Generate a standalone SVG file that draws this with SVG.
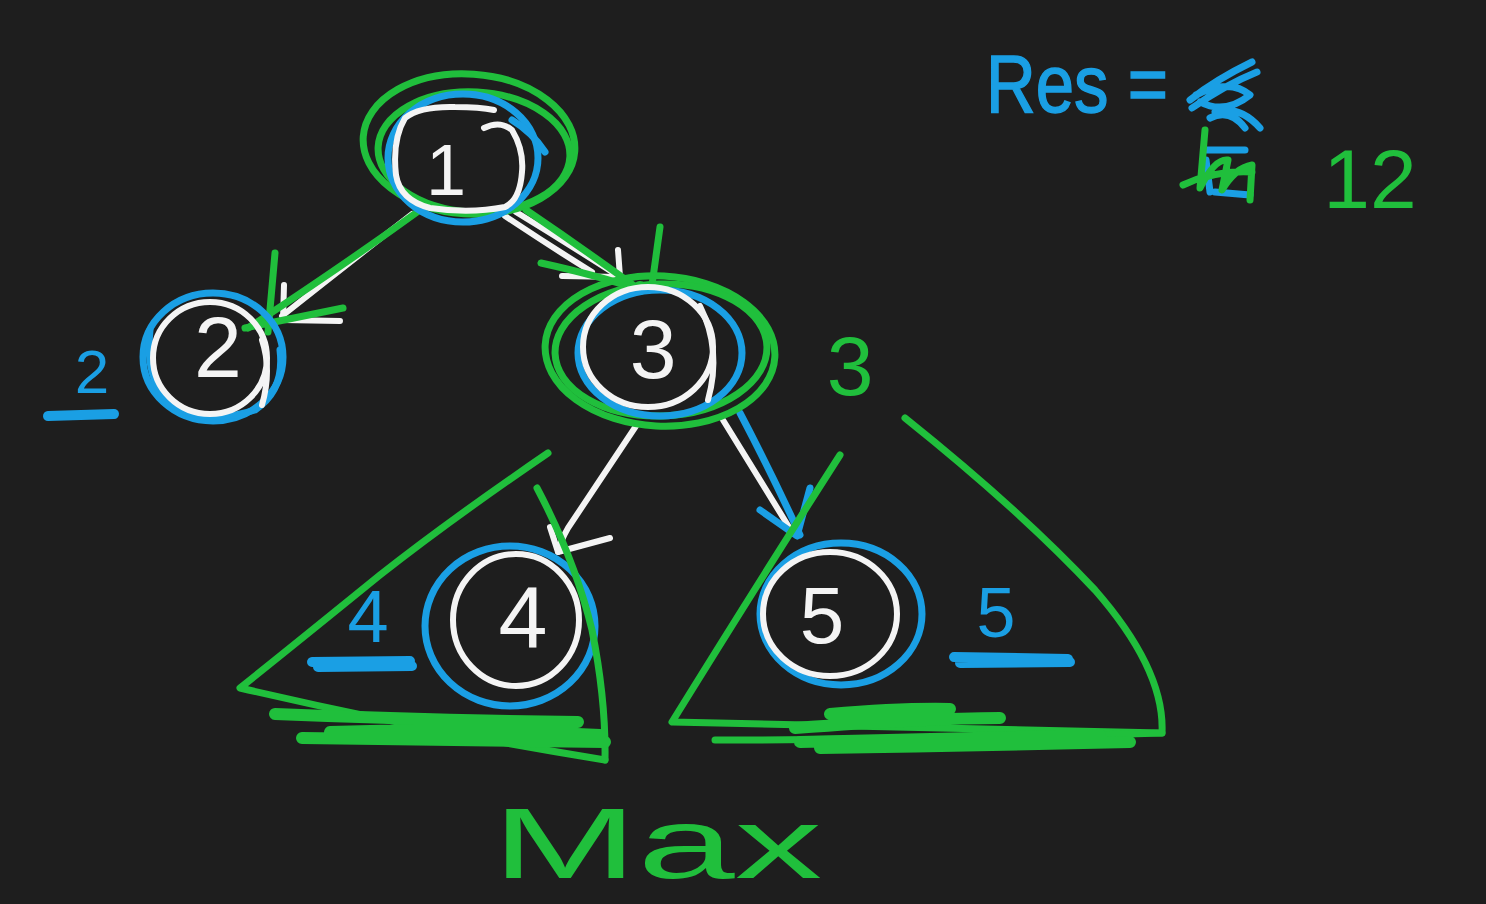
<svg xmlns="http://www.w3.org/2000/svg" width="1486" height="904" viewBox="0 0 1486 904">
<style>
.w{fill:none;stroke:#f4f4f4;stroke-width:6;stroke-linecap:round;stroke-linejoin:round}
.b{fill:none;stroke:#1a9fe4;stroke-width:7;stroke-linecap:round;stroke-linejoin:round}
.g{fill:none;stroke:#20bf3c;stroke-width:7;stroke-linecap:round;stroke-linejoin:round}
.gs{fill:none;stroke:#20bf3c;stroke-width:12;stroke-linecap:round;stroke-linejoin:round}
.bs{fill:none;stroke:#1a9fe4;stroke-width:10;stroke-linecap:round;stroke-linejoin:round}
.t{font-family:"Liberation Sans",Arial,sans-serif;text-anchor:middle}
.tw{fill:#f4f4f4}
.tb{fill:#1a9fe4}
.tg{fill:#20bf3c}
</style>
<rect width="1486" height="904" fill="#1e1e1e"/>

<g id="connectors">
  <!-- 1 -> 2 -->
  <path class="w" d="M412 214 Q350 262 282 316"/>
  <path class="w" d="M284 285 L283 320 L340 321"/>
  <path class="g" d="M420 210 Q340 268 248 328"/>
  <path class="g" d="M275 253 L268 332 M343 308 L245 328"/>
  <!-- 1 -> 3 -->
  <path class="w" d="M505 216 Q550 246 592 272"/>
  <path class="w" d="M516 212 Q570 245 620 277"/>
  <path class="w" d="M618 250 L620 277 L562 276"/>
  <path class="g" d="M526 210 Q585 250 640 290"/>
  <path class="g" d="M541 263 Q600 276 640 290 M660 227 L652 285"/>
  <circle cx="640" cy="288" r="7" fill="#20bf3c"/>
  <!-- 3 -> 4 -->
  <path class="w" d="M636 426 Q600 480 568 528 Q560 542 558 552"/>
  <path class="w" d="M550 527 L558 552 L610 538"/>
  <!-- 3 -> 5 -->
  <path class="w" d="M723 420 L792 532"/>
  <path class="b" d="M740 413 Q770 470 800 535"/>
  <path class="b" d="M760 510 L797 536 L810 488"/>
</g>

<g id="node1">
  <ellipse class="g" cx="469" cy="144" rx="106" ry="70" transform="rotate(4 469 144)"/>
  <ellipse class="g" cx="474" cy="152" rx="96" ry="60" transform="rotate(3 474 152)"/>
  <ellipse class="b" cx="463" cy="158" rx="75" ry="64"/>
  <path class="b" d="M512 120 Q532 132 545 152"/>
  <path class="w" d="M484 128 Q500 120 512 130 Q524 150 522 172 Q520 200 505 207 Q470 214 430 208 Q400 200 396 175 Q392 140 405 118 Q420 106 455 107 Q480 107 494 110"/>
  <text class="t tw" x="446" y="195" font-size="72">1</text>
</g>

<g id="node2">
  <ellipse class="b" cx="213" cy="357" rx="70" ry="64"/>
  <path class="b" d="M150 330 Q145 380 170 405 Q210 425 255 410 Q285 390 280 350"/>
  <ellipse class="w" cx="210" cy="358" rx="57" ry="56"/>
  <path class="w" d="M262 340 Q272 370 262 405"/>
  <text class="t tw" x="218" y="377" font-size="86">2</text>
  <text class="t tb" x="92" y="393" font-size="62">2</text>
  <path class="bs" d="M48 416 L114 414"/>
</g>

<g id="node3">
  <ellipse class="g" cx="660" cy="351" rx="115" ry="75" transform="rotate(3 660 351)"/>
  <ellipse class="g" cx="661" cy="350" rx="106" ry="66" transform="rotate(-2 661 350)"/>
  <ellipse class="b" cx="660" cy="353" rx="82" ry="63"/>
  <ellipse class="w" cx="648" cy="347" rx="65" ry="60"/>
  <path class="w" d="M700 306 Q722 350 708 400"/>
  <text class="t tw" x="653" y="378" font-size="84">3</text>
  <text class="t tg" x="850" y="395" font-size="84">3</text>
</g>

<g id="node4">
  <ellipse class="b" cx="510" cy="626" rx="85" ry="80"/>
  <ellipse class="w" cx="516" cy="620" rx="63" ry="66"/>
  <text class="t tw" x="523" y="648" font-size="88">4</text>
  <text class="t tb" x="368" y="642" font-size="74">4</text>
  <path class="bs" d="M312 662 L410 661 M318 667 L412 666"/>
</g>

<g id="node5">
  <ellipse class="b" cx="841" cy="614" rx="81" ry="71"/>
  <ellipse class="w" cx="830" cy="614" rx="67" ry="62"/>
  <text class="t tw" x="822" y="643" font-size="80">5</text>
  <text class="t tb" x="996" y="637" font-size="70">5</text>
  <path class="bs" d="M954 657 L1068 659 M960 663 L1070 662"/>
</g>

<g id="subtrees">
  <!-- left subtree triangle -->
  <path class="g" d="M548 453 Q450 520 380 575 Q300 640 240 688 Q420 730 605 760"/>
  <path class="g" d="M537 488 Q575 560 592 630 Q606 700 605 760"/>
  <path class="gs" d="M275 714 Q420 720 578 722 M302 738 Q450 740 605 742 M330 732 Q470 728 600 735"/>
  <!-- right subtree triangle -->
  <path class="g" d="M840 455 Q760 580 672 722 Q900 728 1162 733"/>
  <path class="g" d="M905 418 Q1020 510 1095 590 Q1165 670 1162 733 Q940 740 715 740"/>
  <path class="gs" d="M830 714 Q900 708 950 709 M795 728 Q930 718 1000 718 M800 742 Q950 738 1100 735 M820 748 Q960 746 1130 742"/>
  <!-- Max -->
  <text class="t tg" x="657" y="878" font-size="100" textLength="330" lengthAdjust="spacingAndGlyphs">Max</text>
</g>

<g id="result">
  <text font-family="Liberation Sans, Arial, sans-serif" class="tb" x="986" y="112" font-size="82" textLength="182" lengthAdjust="spacingAndGlyphs" stroke="#1a9fe4" stroke-width="1.5">Res =</text>
  <!-- crossed-out values -->
  <path class="b" d="M1190 100 Q1215 80 1252 62 M1192 108 Q1225 85 1257 72 M1196 95 Q1230 78 1250 95 Q1225 115 1200 102 M1215 112 Q1240 105 1260 128 M1210 118 Q1230 108 1245 128"/>
  <path class="b" d="M1205 150 L1245 150 M1206 160 L1210 192 M1215 192 L1250 195"/>
  <path class="g" d="M1205 130 L1200 188 Q1215 158 1228 160 L1222 190 Q1235 168 1252 165 L1250 200 M1183 185 Q1215 170 1252 172"/>
  <text class="t tg" x="1370" y="208" font-size="84">12</text>
</g>
</svg>
